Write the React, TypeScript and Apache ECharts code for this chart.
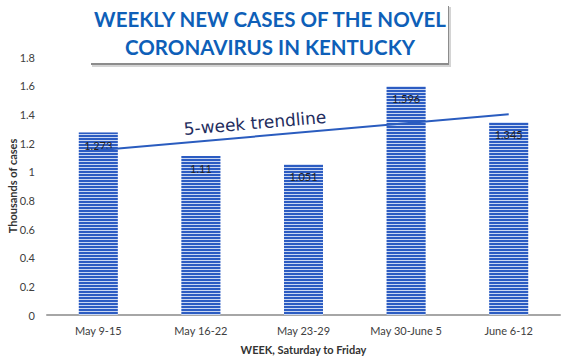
import React, { useEffect, useRef } from "react";
import * as echarts from "echarts";

const categories = ["May 9-15", "May 16-22", "May 23-29", "May 30-June 5", "June 6-12"];
const weeklyCases = [1.273, 1.11, 1.051, 1.596, 1.345];
const trendline = [1.149, null, null, null, 1.401];
const titleLines = ["WEEKLY NEW CASES OF THE NOVEL", "CORONAVIRUS IN KENTUCKY"];

const FONT = "Lato, 'Open Sans', sans-serif";

export default function App() {
  const ref = useRef<HTMLDivElement>(null);
  useEffect(() => {
    if (!ref.current) return;
    const chart = echarts.init(ref.current, null, { renderer: "svg" });
    chart.setOption({
      animation: false,
      backgroundColor: "#ffffff",
      textStyle: { fontFamily: FONT },
      grid: { left: 47, right: 4, top: 57, bottom: 45, containLabel: false, outerBoundsMode: "none" },
      xAxis: {
        type: "category",
        data: categories,
        name: "WEEK, Saturday to Friday",
        nameLocation: "middle",
        nameGap: 29,
        nameMoveOverlap: false,
        nameTextStyle: { fontFamily: FONT, fontSize: 11, fontWeight: "bold", color: "#333" },
        axisLine: { lineStyle: { color: "#a6a6a6", width: 2 } },
        axisTick: { show: false },
        axisLabel: { fontFamily: FONT, fontSize: 11, color: "#404040", margin: 10 },
      },
      yAxis: {
        type: "value",
        min: 0,
        max: 1.8,
        interval: 0.2,
        name: "Thousands of cases",
        nameLocation: "middle",
        nameGap: 29,
        nameMoveOverlap: false,
        nameTextStyle: { fontFamily: FONT, fontSize: 11, fontWeight: "bold", color: "#333" },
        axisLine: { show: false },
        axisTick: { show: false },
        splitLine: { show: false },
        axisLabel: { fontFamily: FONT, fontSize: 11, color: "#404040", margin: 12 },
      },
      series: [
        {
          type: "bar",
          data: weeklyCases,
          barWidth: "38%",
          itemStyle: {
            color: "#c9d7f2",
            decal: {
              symbol: "rect",
              symbolSize: 1,
              dashArrayX: [1, 0],
              dashArrayY: [2, 1],
              rotation: 0,
              color: "#2c5cc2",
            },
          },
          label: {
            show: true,
            position: "insideTop",
            distance: 7,
            fontFamily: FONT,
            fontSize: 11,
            color: "#222",
            formatter: (p: any) => String(p.value),
          },
        },
        {
          type: "line",
          data: trendline,
          connectNulls: true,
          symbol: "none",
          lineStyle: { color: "#2a5cbf", width: 2 },
          z: 5,
        },
      ],
      graphic: [
        {
          type: "rect",
          shape: { x: 92, y: 7, width: 359, height: 60 },
          style: { fill: "#d4d4d4" },
          z: 9,
        },
        {
          type: "rect",
          shape: { x: 91, y: 6, width: 358, height: 59 },
          style: { fill: "#8c8c8c" },
          z: 9,
        },
        {
          type: "rect",
          shape: { x: 89, y: 3, width: 359, height: 60 },
          style: { fill: "#ffffff" },
          z: 10,
        },
        {
          type: "text",
          x: 270,
          y: 19,
          style: {
            text: titleLines[0],
            fill: "#0e5fb8",
            font: `bold 20.5px ${FONT}`,
            textAlign: "center",
            textVerticalAlign: "middle",
          },
          z: 11,
        },
        {
          type: "text",
          x: 270,
          y: 47,
          style: {
            text: titleLines[1],
            fill: "#0e5fb8",
            font: `bold 20.5px ${FONT}`,
            textAlign: "center",
            textVerticalAlign: "middle",
          },
          z: 11,
        },
        {
          type: "text",
          x: 255,
          y: 123,
          rotation: 0.085,
          style: {
            text: "5-week trendline",
            fill: "#1f2d5e",
            font: `17px 'DejaVu Sans', sans-serif`,
            textAlign: "center",
            textVerticalAlign: "middle",
          },
          z: 11,
        },
      ],
    });
    return () => chart.dispose();
  }, []);
  return <div ref={ref} style={{ width: 564, height: 360, position: "absolute", left: 0, top: 0 }} />;
}
